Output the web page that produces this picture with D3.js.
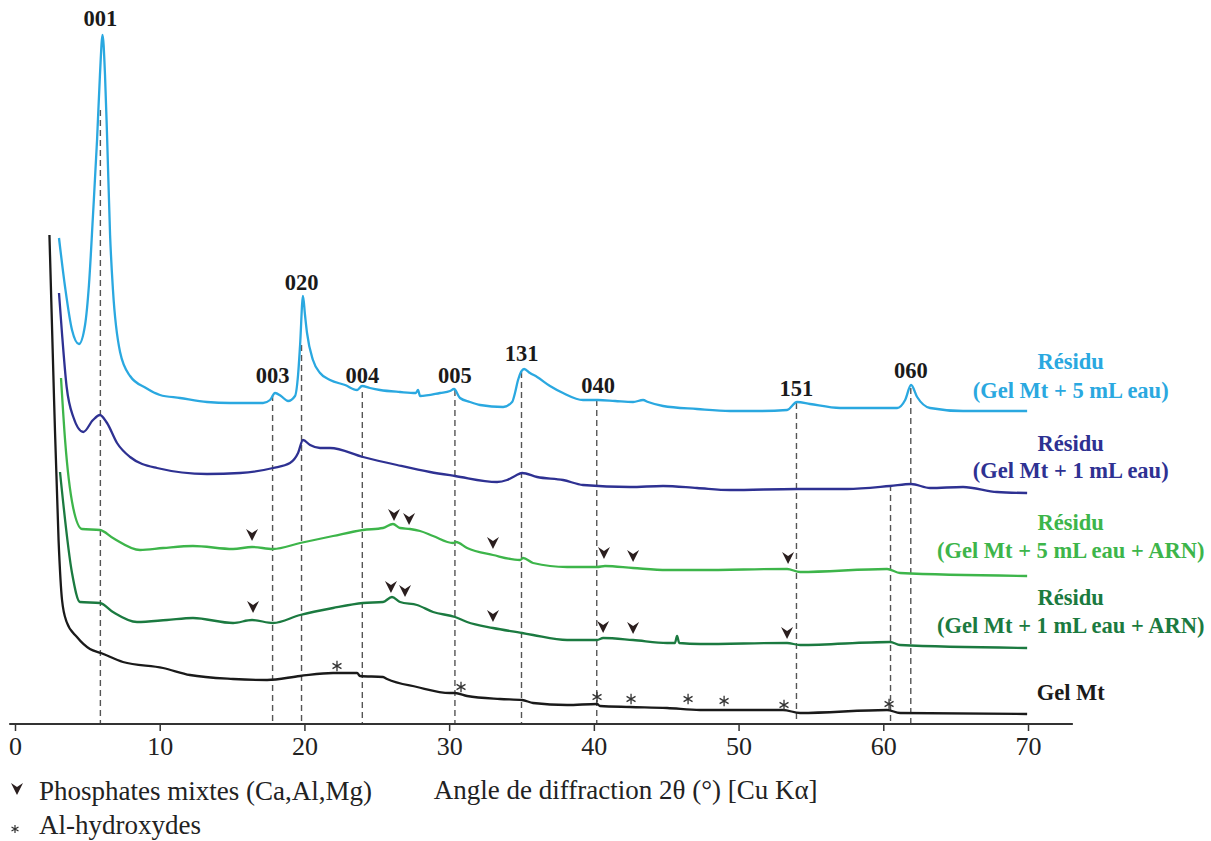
<!DOCTYPE html>
<html><head><meta charset="utf-8">
<script src="https://cdn.jsdelivr.net/npm/d3@7"></script>
<style>
html,body{margin:0;padding:0;background:#fff;}
svg{display:block;}
text{font-family:"Liberation Serif","Times New Roman",serif;}
</style></head>
<body><svg id="c" width="1211" height="841"></svg>
<script>
// ---- DATA (2θ in degrees, intensity in arbitrary offset units) ----
const residu5mL = [[3.04,486],[3.46,437],[3.94,394],[4.42,380],[4.84,399],[5.11,439],[5.39,509],[5.67,584],[5.87,649],[6.05,689],[6.22,649],[6.36,589],[6.57,489],[6.77,434],[7.26,372],[7.95,348],[9.05,336],[10.02,329],[11.40,326],[13.27,322],[14.86,321],[17.14,321],[17.62,324],[17.97,331],[18.38,328],[18.87,323],[19.35,328],[19.56,349],[19.70,379],[19.90,428],[20.04,409],[20.18,391],[20.59,364],[21.08,351],[21.77,344],[22.81,339],[23.64,334],[23.98,338],[24.53,336],[25.22,334],[26.61,332],[27.70,331],[27.85,334],[27.99,328],[29.37,331],[30.06,333],[30.34,335],[30.75,326],[31.44,322],[32.14,319],[33.73,317],[34.35,322],[34.55,331],[34.76,344],[35.18,355],[35.59,351],[36.08,347],[36.97,338],[37.87,331],[39.25,324],[40.29,324],[41.47,323],[42.71,322],[43.40,324],[43.75,322],[44.78,318],[47.13,315],[49.41,313],[51.49,313],[53.35,314],[54.04,322],[54.94,320],[57.02,316],[59.09,316],[60.96,316],[61.51,324],[61.92,339],[62.34,327],[63.23,316],[65.51,313],[69.94,313]];
const residu1mL = [[3.04,431],[3.23,394],[3.57,337],[4.03,307],[4.72,292],[5.39,304],[5.87,309],[6.36,301],[7.05,281],[7.95,267],[9.81,256],[13.27,250],[15.55,251],[17.83,256],[19.00,261],[19.56,271],[19.90,284],[20.39,279],[21.08,276],[21.77,276],[24.05,267],[26.40,259],[28.68,252],[30.41,248],[33.31,242],[34.00,244],[34.55,248],[35.04,251],[36.08,247],[37.87,244],[39.25,239],[42.50,237],[44.78,238],[47.13,236],[49.41,234],[54.04,235],[57.50,235],[60.47,238],[61.92,240],[63.23,236],[65.51,237],[67.86,232],[69.94,231]];
const residu5mLARN = [[3.18,346],[3.46,284],[4.01,217],[4.63,195],[5.87,194],[6.77,186],[8.64,174],[10.23,176],[12.30,178],[15.07,175],[16.38,177],[17.83,175],[19.70,181],[21.98,188],[24.05,194],[25.43,196],[26.12,200],[26.61,196],[27.30,195],[27.99,193],[28.89,188],[30.27,181],[30.48,182],[31.24,176],[33.03,169],[34.90,164],[35.11,166],[35.80,161],[38.15,157],[40.22,157],[40.77,158],[42.71,156],[45.06,154],[47.34,154],[53.35,155],[54.25,152],[60.26,155],[61.16,151],[69.94,148]];
const residu1mLARN = [[3.11,252],[3.94,151],[4.49,122],[5.87,121],[6.77,112],[8.43,102],[10.50,104],[12.30,106],[15.07,101],[16.38,104],[17.83,101],[19.70,109],[21.98,116],[24.05,121],[25.43,122],[26.05,127],[26.61,122],[27.78,119],[28.89,112],[30.41,107],[31.24,102],[33.03,96],[35.04,91],[35.80,89],[38.15,84],[40.22,84],[40.64,86],[42.71,84],[45.06,81],[45.60,81],[45.75,88],[45.90,81],[47.34,80],[53.35,81],[54.25,79],[60.47,82],[61.16,79],[69.94,76]];
const gelMt = [[2.38,489],[2.70,324],[3.01,184],[3.25,124],[3.57,102],[4.28,87],[5.18,75],[5.94,71],[7.46,62],[10.23,56],[12.09,49],[15.07,45],[17.42,44],[19.70,48],[21.98,51],[23.64,51],[23.84,48],[25.43,47],[25.71,45],[27.78,37],[30.06,31],[30.41,31],[31.24,28],[33.52,25],[35.04,24],[35.80,21],[38.15,19],[40.22,20],[40.43,18],[42.50,17],[45.06,16],[47.34,14],[53.07,14],[54.25,11],[60.26,14],[61.16,11],[69.94,10]];

const seriesNames = ["Résidu 5 mL","Résidu 1 mL","Résidu 5 mL + ARN","Résidu 1 mL + ARN","Gel Mt"];
const seriesColors = ["#2aa8e0","#2e3192","#3db54a","#1b7a40","#1a1a1a"];
const seriesLabelLines = [["Résidu","(Gel Mt + 5 mL eau)"],["Résidu","(Gel Mt + 1 mL eau)"],["Résidu","(Gel Mt + 5 mL eau + ARN)"],["Résidu","(Gel Mt + 1 mL eau + ARN)"],["Gel Mt"]];
const seriesLabelY = [[363,334],[281,254],[202,174],[127,99],[32]];
const seriesLabelX = 72.95;

const peakLabels = ["001","003","020","004","005","131","040","151","060"];
const peakLabelPos = [[5.9,706],[17.8,349],[19.8,442],[24.0,349],[30.4,349],[35.0,371],[40.3,339],[54.0,336],[61.9,354]];

const dashedX = [5.9,17.8,19.8,24.0,30.4,35.0,40.2,54.0,60.5,61.9];
const dashedTop = [614,329,379,332,334,352,324,321,239,336];

const phosphate5mLARN = [[16.38,189],[26.19,209],[27.23,205],[33.03,181],[40.70,171],[42.71,168],[53.42,166]];
const phosphate1mLARN = [[16.45,117],[25.98,137],[26.95,133],[33.03,108],[40.64,97],[42.71,96],[53.35,91]];
const alHydroxydes = [[22.25,58],[30.82,37],[40.22,27],[42.57,25],[46.51,25],[49.00,23],[53.14,19],[60.40,20]];

const xTicks = [0,10,20,30,40,50,60,70];
const xTitle = "Angle de diffraction 2θ (°) [Cu Kα]";
const legendItems = ["Phosphates mixtes (Ca,Al,Mg)","Al-hydroxydes"];

// ---- CHART ----
const svg = d3.select("#c");
const x = d3.scaleLinear().domain([0,70]).range([15,1028]);
const y = d3.scaleLinear().domain([0,724]).range([724,0]);
const serif = '"Liberation Serif","Times New Roman",serif';

// dashed reference lines
svg.append("g").selectAll("line").data(dashedX).join("line")
  .attr("x1", d=>x(d)).attr("x2", d=>x(d))
  .attr("y1", (d,i)=>y(dashedTop[i])).attr("y2", y(0))
  .attr("stroke", "#555").attr("stroke-width", 1.4).attr("stroke-dasharray", "6,4");

// curves
const allSeries = [residu5mL, residu1mL, residu5mLARN, residu1mLARN, gelMt];
const line = d3.line().x(d=>x(d[0])).y(d=>y(d[1])).curve(d3.curveMonotoneX);
svg.append("g").selectAll("path").data(allSeries).join("path")
  .attr("d", line).attr("fill","none")
  .attr("stroke", (d,i)=>seriesColors[i]).attr("stroke-width", 2.3)
  .attr("stroke-linejoin","round");

// axis
const axisG = svg.append("g").attr("transform", `translate(0,${y(0)})`)
  .call(d3.axisBottom(x).tickValues(xTicks).tickSize(7).tickPadding(6).tickFormat(d3.format("d")));
axisG.select(".domain").remove();
axisG.insert("line", ":first-child").attr("x1", x(-0.4)).attr("x2", x(73.1)).attr("y1",0).attr("y2",0)
  .attr("stroke","#333").attr("stroke-width",2);
axisG.selectAll(".tick line").attr("stroke","#333").attr("stroke-width",1.5);
axisG.selectAll(".tick text").attr("font-family", serif).attr("font-size", 26).attr("fill","#222");

svg.append("text").attr("x", x(42.2)).attr("y", 799).attr("text-anchor","middle")
  .attr("font-size", 27).attr("fill","#222").text(xTitle);

// peak labels
svg.append("g").selectAll("text").data(peakLabels).join("text")
  .attr("x",(d,i)=>x(peakLabelPos[i][0])).attr("y",(d,i)=>y(peakLabelPos[i][1]))
  .attr("dy","0.35em").attr("text-anchor","middle")
  .attr("font-weight","bold").attr("font-size",22.5).attr("fill","#1a1a1a").text(d=>d);

// series labels
seriesLabelLines.forEach((lines,i)=>{
  svg.append("g").selectAll("text").data(lines).join("text")
    .attr("x", x(seriesLabelX)).attr("y",(d,j)=>y(seriesLabelY[i][j]))
    .attr("dy","0.35em").attr("text-anchor","middle")
    .attr("font-weight","bold").attr("font-size",22.5).attr("fill",seriesColors[i]).text(d=>d);
});

// markers
const chevron = "M-6,-6 L0,-2 L6,-6 L0,6 Z";
svg.append("g").selectAll("path").data(phosphate5mLARN.concat(phosphate1mLARN)).join("path")
  .attr("d", chevron).attr("transform", d=>`translate(${x(d[0])},${y(d[1])})`)
  .attr("fill","#2a1e1e");
const ast = d3.symbol(d3.symbolAsterisk, 75);
svg.append("g").selectAll("path").data(alHydroxydes).join("path")
  .attr("d", ast).attr("transform", d=>`translate(${x(d[0])},${y(d[1])})`)
  .attr("fill","none").attr("stroke","#333").attr("stroke-width",1.3);

// legend
const legend = svg.append("g");
legend.append("path").attr("d", chevron).attr("transform","translate(17,789)").attr("fill","#2a1e1e");
legend.append("path").attr("d", d3.symbol(d3.symbolAsterisk, 45)).attr("transform","translate(15,829)")
  .attr("fill","none").attr("stroke","#333").attr("stroke-width",1.2);
legend.selectAll("text").data(legendItems).join("text")
  .attr("x", 39).attr("y",(d,i)=>800 + i*34)
  .attr("font-size",27).attr("fill","#222").text(d=>d);
</script></body></html>
